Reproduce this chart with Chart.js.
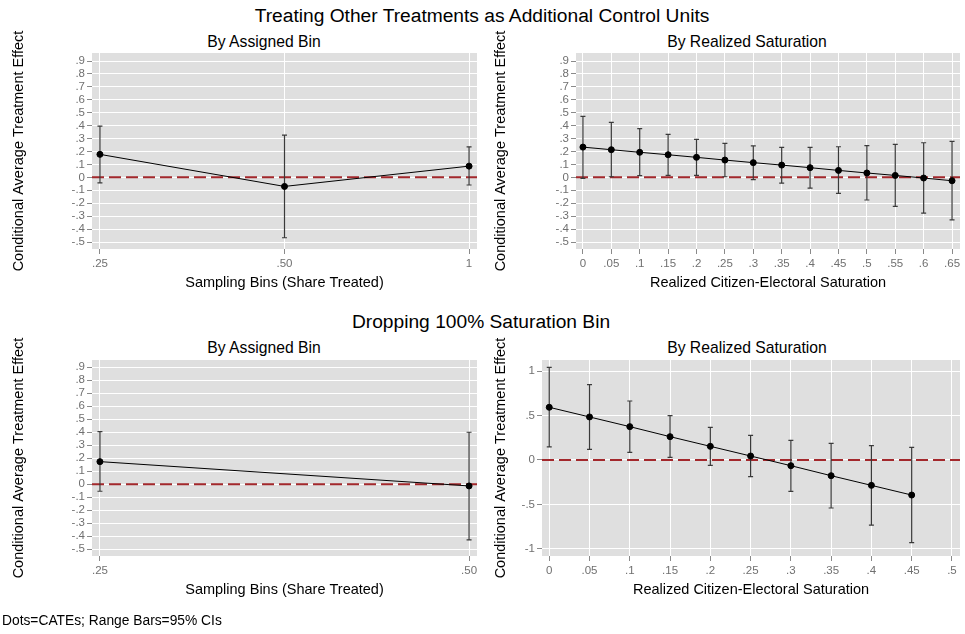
<!DOCTYPE html>
<html>
<head>
<meta charset="utf-8">
<script src="https://cdn.jsdelivr.net/npm/chart.js@4.4.0/dist/chart.umd.min.js"></script>
<style>
  body { margin: 0; background: #fff; width: 965px; height: 634px; position: relative; overflow: hidden;
         font-family: "Liberation Sans", Arial, sans-serif; }
  canvas { position: absolute; }
  .t { position: absolute; white-space: nowrap; transform: translate(-50%, -50%); color: #000; }
</style>
</head>
<body>
<div class="t" style="left:482px;top:16px;font-size:19.2px">Treating Other Treatments as Additional Control Units</div>
<div class="t" style="left:264px;top:42px;font-size:15.7px">By Assigned Bin</div>
<div class="t" style="left:747px;top:42px;font-size:15.7px">By Realized Saturation</div>
<div class="t" style="left:481px;top:322px;font-size:19.2px">Dropping 100% Saturation Bin</div>
<div class="t" style="left:264px;top:348px;font-size:15.7px">By Assigned Bin</div>
<div class="t" style="left:747px;top:348px;font-size:15.7px">By Realized Saturation</div>

<canvas id="topBin" width="482" height="282" style="left:0;top:28px"></canvas>
<canvas id="topSat" width="483" height="282" style="left:482px;top:28px"></canvas>
<canvas id="botBin" width="482" height="282" style="left:0;top:335px"></canvas>
<canvas id="botSat" width="483" height="282" style="left:482px;top:335px"></canvas>

<div style="position:absolute;left:2px;top:613px;font-size:13.8px">Dots=CATEs; Range Bars=95% CIs</div>

<script>
// top row: other treatments treated as additional controls
const binLabelsTop = ['.25', '.50', '1'];
const binCateTop = [0.178, -0.070, 0.087];
const binLoTop = [-0.042, -0.467, -0.059];
const binHiTop = [0.397, 0.327, 0.236];

const satTop = [0, .05, .1, .15, .2, .25, .3, .35, .4, .45, .5, .55, .6, .65];
const satLabelsTop = ['0', '.05', '.1', '.15', '.2', '.25', '.3', '.35', '.4', '.45', '.5', '.55', '.6', '.65'];
const satCateTop = [0.234, 0.214, 0.194, 0.175, 0.155, 0.134, 0.114, 0.095, 0.075, 0.054, 0.034, 0.015, -0.005, -0.026];
const satLoTop = [-0.008, 0.005, 0.013, 0.015, 0.015, 0.005, -0.018, -0.044, -0.083, -0.124, -0.175, -0.225, -0.276, -0.328];
const satHiTop = [0.472, 0.426, 0.377, 0.333, 0.294, 0.263, 0.243, 0.232, 0.232, 0.237, 0.245, 0.255, 0.268, 0.279];

// bottom row: 100% saturation bin dropped
const binLabelsBottom = ['.25', '.50'];
const binCateBottom = [0.174, -0.013];
const binLoBottom = [-0.054, -0.428];
const binHiBottom = [0.405, 0.400];

const satBottom = [0, .05, .1, .15, .2, .25, .3, .35, .4, .45, .5];
const satLabelsBottom = ['0', '.05', '.1', '.15', '.2', '.25', '.3', '.35', '.4', '.45', '.5'];
const satCateBottom = [0.594, 0.485, 0.376, 0.263, 0.154, 0.045, -0.064, -0.177, -0.286, -0.395];
const satLoBottom = [0.147, 0.120, 0.086, 0.030, -0.060, -0.188, -0.353, -0.541, -0.733, -0.932];
const satHiBottom = [1.045, 0.850, 0.665, 0.500, 0.368, 0.278, 0.222, 0.188, 0.162, 0.143];

const yTicksFine = [-.5, -.4, -.3, -.2, -.1, 0, .1, .2, .3, .4, .5, .6, .7, .8, .9];
const yLabelsFine = ['-.5', '-.4', '-.3', '-.2', '-.1', '0', '.1', '.2', '.3', '.4', '.5', '.6', '.7', '.8', '.9'];
const yTicksWide = [-1, -.5, 0, .5, 1];
const yLabelsWide = ['-1', '-.5', '0', '.5', '1'];

const zeroLine = 0;
const yTitle = 'Conditional Average Treatment Effect';
const fontFamily = '"Liberation Sans", Arial, sans-serif';

const grayArea = {
  id: 'grayArea',
  beforeDraw(chart) {
    const { ctx, chartArea: a } = chart;
    ctx.save();
    ctx.fillStyle = '#dfdfdf';
    ctx.fillRect(a.left, a.top, a.right - a.left, a.bottom - a.top);
    ctx.restore();
  }
};

// red reference line at zero, then the 95% CI range bars
const ciBars = {
  id: 'ciBars',
  beforeDatasetsDraw(chart) {
    const { ctx, chartArea: a, scales: { x, y } } = chart;
    const ds = chart.data.datasets[0];
    const y0 = y.getPixelForValue(zeroLine);
    ctx.save();
    ctx.strokeStyle = '#a3282c';
    ctx.lineWidth = 2;
    ctx.setLineDash([12, 5]);
    ctx.beginPath();
    ctx.moveTo(a.left, y0);
    ctx.lineTo(a.right, y0);
    ctx.stroke();
    ctx.setLineDash([]);
    ctx.strokeStyle = '#3a3a3a';
    ctx.lineWidth = 1.2;
    ds.data.forEach((p, i) => {
      const px = x.getPixelForValue(p.x);
      const top = y.getPixelForValue(ds.hi[i]);
      const bot = y.getPixelForValue(ds.lo[i]);
      ctx.beginPath();
      ctx.moveTo(px, top); ctx.lineTo(px, bot);
      ctx.moveTo(px - 2.5, top); ctx.lineTo(px + 2.5, top);
      ctx.moveTo(px - 2.5, bot); ctx.lineTo(px + 2.5, bot);
      ctx.stroke();
    });
    ctx.restore();
  }
};

function panel(id, cfg) {
  new Chart(document.getElementById(id), {
    type: 'line',
    data: {
      datasets: [{
        data: cfg.xs.map((v, i) => ({ x: v, y: cfg.cate[i] })),
        lo: cfg.lo,
        hi: cfg.hi,
        borderColor: '#000',
        borderWidth: 1,
        pointRadius: 3,
        pointBackgroundColor: '#000',
        pointBorderColor: '#000',
        tension: 0
      }]
    },
    options: {
      responsive: false,
      animation: false,
      devicePixelRatio: 1,
      layout: { padding: { left: 0, right: 2, top: 25, bottom: 0 } },
      plugins: { legend: { display: false }, tooltip: { enabled: false } },
      scales: {
        x: {
          type: 'linear',
          min: cfg.xMin,
          max: cfg.xMax,
          afterBuildTicks: s => { s.ticks = cfg.xTicks.map(v => ({ value: v })); },
          afterFit: s => { s.height = 61; },
          ticks: {
            autoSkip: false, maxRotation: 0, padding: 3,
            color: '#707070', font: { family: fontFamily, size: 11.5 },
            callback: (v, i) => cfg.xLabels[i]
          },
          grid: { color: '#ffffff', lineWidth: 1, tickColor: '#8a8a8a', tickLength: 5 },
          border: { display: false },
          title: {
            display: true, text: cfg.xTitle, color: '#000',
            font: { family: fontFamily, size: 14.5 }, padding: { top: 0, bottom: 18 }
          }
        },
        y: {
          type: 'linear',
          min: cfg.yMin,
          max: cfg.yMax,
          afterBuildTicks: s => { s.ticks = cfg.yTicks.map(v => ({ value: v })); },
          afterFit: s => { s.width = cfg.yWidth; },
          ticks: {
            autoSkip: false, padding: 2,
            color: '#707070', font: { family: fontFamily, size: 11.5 },
            callback: (v, i) => cfg.yLabels[i]
          },
          grid: { color: '#ffffff', lineWidth: 1, tickColor: '#8a8a8a', tickLength: 5 },
          border: { display: false },
          title: {
            display: true, text: yTitle, color: '#000',
            font: { family: fontFamily, size: 14.5 }, padding: { top: 10, bottom: 0 }
          }
        }
      }
    },
    plugins: [grayArea, ciBars]
  });
}

panel('topBin', {
  xs: binLabelsTop.map((l, i) => i), cate: binCateTop, lo: binLoTop, hi: binHiTop,
  xTicks: binLabelsTop.map((l, i) => i), xLabels: binLabelsTop, xMin: -0.043, xMax: 2.043,
  yTicks: yTicksFine, yLabels: yLabelsFine, yMin: -0.554, yMax: 0.962, yWidth: 92,
  xTitle: 'Sampling Bins (Share Treated)'
});

panel('topSat', {
  xs: satTop, cate: satCateTop, lo: satLoTop, hi: satHiTop,
  xTicks: satTop, xLabels: satLabelsTop, xMin: -0.0122, xMax: 0.664,
  yTicks: yTicksFine, yLabels: yLabelsFine, yMin: -0.554, yMax: 0.962, yWidth: 94,
  xTitle: 'Realized Citizen-Electoral Saturation'
});

panel('botBin', {
  xs: binLabelsBottom.map((l, i) => i), cate: binCateBottom, lo: binLoBottom, hi: binHiBottom,
  xTicks: binLabelsBottom.map((l, i) => i), xLabels: binLabelsBottom, xMin: -0.0215, xMax: 1.0215,
  yTicks: yTicksFine, yLabels: yLabelsFine, yMin: -0.552, yMax: 0.956, yWidth: 92,
  xTitle: 'Sampling Bins (Share Treated)'
});

panel('botSat', {
  xs: satBottom.slice(0, satCateBottom.length), cate: satCateBottom, lo: satLoBottom, hi: satHiBottom,
  xTicks: satBottom, xLabels: satLabelsBottom, xMin: -0.009, xMax: 0.51,
  yTicks: yTicksWide, yLabels: yLabelsWide, yMin: -1.082, yMax: 1.127, yWidth: 60,
  xTitle: 'Realized Citizen-Electoral Saturation'
});
</script>
</body>
</html>
